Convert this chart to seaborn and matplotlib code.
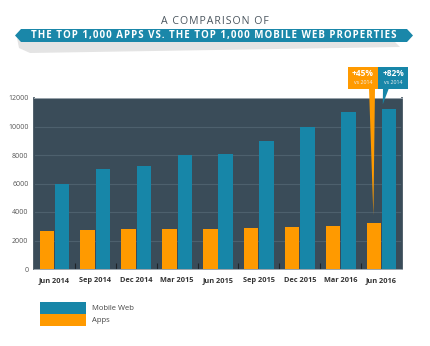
import matplotlib
matplotlib.use("Agg")
import matplotlib.pyplot as plt
import matplotlib.transforms as mtransforms
from matplotlib.patches import Polygon, Patch
import seaborn as sns
import pandas as pd

# ---- data ----
periods = ["Jun 2014", "Sep 2014", "Dec 2014", "Mar 2015", "Jun 2015",
           "Sep 2015", "Dec 2015", "Mar 2016", "Jun 2016"]
apps = [2700, 2750, 2800, 2800, 2800, 2850, 2975, 3025, 3200]
mobile_web = [6000, 7000, 7250, 8000, 8100, 9000, 10000, 11000, 11200]
series_names = ["Apps", "Mobile Web"]
y_ticks = [0, 2000, 4000, 6000, 8000, 10000, 12000]
growth_labels = {"Apps": "+45%", "Mobile Web": "+82%"}
growth_note = "vs 2014"
heading = "A COMPARISON OF"
banner_text = "THE TOP 1,000 APPS VS. THE TOP 1,000 MOBILE WEB PROPERTIES"

ORANGE = "#ff9a00"
BLUE = "#1786a8"
PANEL = "#3a4c59"
GRID = "#4d606d"
TEXT = "#4a555e"
BANNER = "#1a87a9"

df = pd.DataFrame({
    "period": periods * 2,
    "series": ["Apps"] * len(periods) + ["Mobile Web"] * len(periods),
    "count": apps + mobile_web,
})

sns.set_theme(style="white")
plt.rcParams["font.family"] = ["Open Sans", "DejaVu Sans"]

W, H = 431, 346
fig = plt.figure(figsize=(W / 100, H / 100), dpi=100)
fig.patch.set_facecolor("white")

# pixel-space transform (origin top-left)
px = mtransforms.Affine2D().scale(1 / W, -1 / H).translate(0, 1) + fig.transFigure

ax = fig.add_axes([34 / W, 1 - 269 / H, (402 - 34) / W, (269 - 98) / H])
ax.set_facecolor(PANEL)

sns.barplot(data=df, x="period", y="count", hue="series", order=periods,
            hue_order=series_names, palette=[ORANGE, BLUE], width=0.75,
            gap=0.06, saturation=1, ax=ax, legend=False, zorder=3,
            linewidth=0, edgecolor="none")

ax.set_xlim(-0.5, len(periods) - 0.5)
ax.set_ylim(0, 12000)
ax.set_yticks(y_ticks)
ax.set_yticklabels([str(v) for v in y_ticks], fontsize=5, color="#555555")
ax.set_xticks(range(len(periods)))
ax.set_xticklabels(periods, fontsize=5.3, color="#333333", fontweight="bold")
ax.tick_params(axis="both", length=0)
ax.tick_params(axis="x", pad=6)
ax.tick_params(axis="y", pad=4)
ax.set_xticks([i + 0.5 for i in range(len(periods) - 1)], minor=True)
ax.tick_params(axis="x", which="minor", direction="in", length=4, width=0.8,
               color="#1e2328", bottom=True)
ax.yaxis.grid(True, color=GRID, linewidth=0.8, zorder=0)
ax.set_axisbelow(True)
ax.set_xlabel("")
ax.set_ylabel("")
for side in ["left", "right"]:
    ax.spines[side].set_color(PANEL)
for side in ["top", "bottom"]:
    ax.spines[side].set_color("#9aa4ab")
    ax.spines[side].set_linewidth(0.7)

# ---- heading ----
def tracked(s):
    # widen letter spacing with hair spaces
    return "\u200a".join(s)

fig.text(215 / W, 1 - 21 / H, tracked(heading), ha="center", va="center",
         fontsize=7.6, color=TEXT)
shadow = Polygon([(17, 38), (22, 42), (395, 42), (400, 47), (30, 53), (19, 48)],
                 closed=True, transform=px, facecolor="#e4e4e4", edgecolor="none")
fig.patches.append(shadow)
banner = Polygon([(15, 35.5), (21, 29), (407, 29), (413, 35.5), (407, 42), (21, 42)],
                 closed=True, transform=px, facecolor=BANNER, edgecolor="none")
fig.patches.append(banner)
fig.text(214 / W, 1 - 35.8 / H, tracked(banner_text),
         ha="center", va="center", fontsize=7.0, fontweight="bold", color="white")

# ---- growth call-outs for the latest period ----
last = len(periods) - 1
to_px = ax.transData + px.inverted()
apps_tip = to_px.transform((last - 0.2, apps[-1]))
web_tip = to_px.transform((last + 0.03, mobile_web[-1]))
apps_tip = (apps_tip[0], apps_tip[1] - 8)
web_tip = (web_tip[0], web_tip[1] - 5)

boxes = [("Apps", ORANGE, 348, apps_tip, (369, 375)),
         ("Mobile Web", BLUE, 378, web_tip, (383, 389))]
for name, color, x0, tip, (b0, b1) in boxes:
    box = Polygon([(x0, 67), (x0 + 30, 67), (x0 + 30, 89), (x0, 89)], closed=True,
                  transform=px, facecolor=color, edgecolor="none", zorder=5)
    fig.patches.append(box)
    ptr = Polygon([(b0, 88), (b1, 88), tip], closed=True, transform=px,
                  facecolor=color, edgecolor="none", zorder=5)
    fig.patches.append(ptr)
    cx = x0 + 15
    fig.text(cx / W, 1 - 74 / H, growth_labels[name], ha="center", va="center",
             fontsize=6, fontweight="bold", color="white", zorder=6)
    fig.text(cx / W, 1 - 83 / H, growth_note, ha="center", va="center",
             fontsize=3.8, color="#f2f2f2", zorder=6)

# ---- legend ----
handles = [Patch(facecolor=BLUE, edgecolor="none", label="Mobile Web"),
           Patch(facecolor=ORANGE, edgecolor="none", label="Apps")]
fig.legend(handles=handles, loc="upper left", bbox_to_anchor=(40 / W, 1 - 302 / H),
           frameon=False, fontsize=5.5, handlelength=6.0, handleheight=2.0,
           labelspacing=0.0, borderpad=0, borderaxespad=0, handletextpad=0.8,
           labelcolor="#444444")

fig.savefig("out.png", dpi=100, facecolor="white")
